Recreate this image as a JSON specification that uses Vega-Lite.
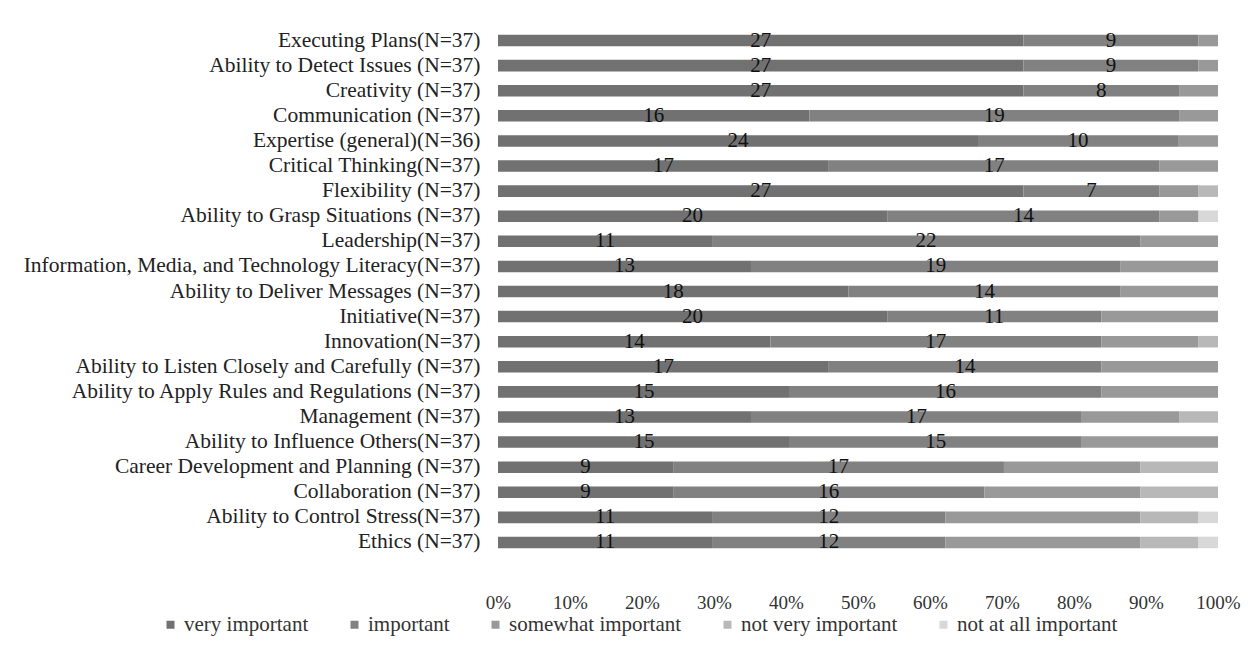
{
  "$schema": "https://vega.github.io/schema/vega-lite/v6.json",
  "autosize": {"type": "none"},
  "width": 720,
  "height": 527,
  "padding": {"left": 498, "top": 28, "right": 40, "bottom": 95},
  "background": "white",
  "config": {
    "view": {"stroke": null},
    "font": "Liberation Serif",
    "axis": {"labelFont": "Liberation Serif", "titleFont": "Liberation Serif"},
    "legend": {"labelFont": "Liberation Serif", "titleFont": "Liberation Serif"},
    "text": {"font": "Liberation Serif"}
  },
  "data": {
    "values": [
      {"item": "Executing Plans(N=37)", "very important": 27, "important": 9, "somewhat important": 1, "not very important": 0, "not at all important": 0},
      {"item": "Ability to Detect Issues (N=37)", "very important": 27, "important": 9, "somewhat important": 1, "not very important": 0, "not at all important": 0},
      {"item": "Creativity (N=37)", "very important": 27, "important": 8, "somewhat important": 2, "not very important": 0, "not at all important": 0},
      {"item": "Communication (N=37)", "very important": 16, "important": 19, "somewhat important": 2, "not very important": 0, "not at all important": 0},
      {"item": "Expertise (general)(N=36)", "very important": 24, "important": 10, "somewhat important": 2, "not very important": 0, "not at all important": 0},
      {"item": "Critical Thinking(N=37)", "very important": 17, "important": 17, "somewhat important": 3, "not very important": 0, "not at all important": 0},
      {"item": "Flexibility (N=37)", "very important": 27, "important": 7, "somewhat important": 2, "not very important": 1, "not at all important": 0},
      {"item": "Ability to Grasp Situations  (N=37)", "very important": 20, "important": 14, "somewhat important": 2, "not very important": 0, "not at all important": 1},
      {"item": "Leadership(N=37)", "very important": 11, "important": 22, "somewhat important": 4, "not very important": 0, "not at all important": 0},
      {"item": "Information, Media, and Technology Literacy(N=37)", "very important": 13, "important": 19, "somewhat important": 5, "not very important": 0, "not at all important": 0},
      {"item": "Ability to Deliver Messages  (N=37)", "very important": 18, "important": 14, "somewhat important": 5, "not very important": 0, "not at all important": 0},
      {"item": "Initiative(N=37)", "very important": 20, "important": 11, "somewhat important": 6, "not very important": 0, "not at all important": 0},
      {"item": "Innovation(N=37)", "very important": 14, "important": 17, "somewhat important": 5, "not very important": 1, "not at all important": 0},
      {"item": "Ability to Listen Closely and Carefully  (N=37)", "very important": 17, "important": 14, "somewhat important": 6, "not very important": 0, "not at all important": 0},
      {"item": "Ability to Apply Rules and Regulations  (N=37)", "very important": 15, "important": 16, "somewhat important": 6, "not very important": 0, "not at all important": 0},
      {"item": "Management (N=37)", "very important": 13, "important": 17, "somewhat important": 5, "not very important": 2, "not at all important": 0},
      {"item": "Ability to Influence Others(N=37)", "very important": 15, "important": 15, "somewhat important": 7, "not very important": 0, "not at all important": 0},
      {"item": "Career Development and Planning (N=37)", "very important": 9, "important": 17, "somewhat important": 7, "not very important": 4, "not at all important": 0},
      {"item": "Collaboration (N=37)", "very important": 9, "important": 16, "somewhat important": 8, "not very important": 4, "not at all important": 0},
      {"item": "Ability to Control Stress(N=37)", "very important": 11, "important": 12, "somewhat important": 10, "not very important": 3, "not at all important": 1},
      {"item": "Ethics (N=37)", "very important": 11, "important": 12, "somewhat important": 10, "not very important": 3, "not at all important": 1}
    ]
  },
  "transform": [
    {"fold": ["very important", "important", "somewhat important", "not very important", "not at all important"], "as": ["level", "count"]},
    {"calculate": "indexof(['very important','important','somewhat important','not very important','not at all important'], datum.level)", "as": "ord"},
    {"stack": "count", "groupby": ["item"], "sort": [{"field": "ord", "order": "ascending"}], "offset": "normalize", "as": ["v0", "v1"]},
    {"calculate": "(datum.v0 + datum.v1) / 2", "as": "mid"}
  ],
  "encoding": {
    "y": {
      "field": "item",
      "type": "nominal",
      "sort": [
        "Executing Plans(N=37)", "Ability to Detect Issues (N=37)", "Creativity (N=37)", "Communication (N=37)", "Expertise (general)(N=36)", "Critical Thinking(N=37)", "Flexibility (N=37)", "Ability to Grasp Situations  (N=37)", "Leadership(N=37)", "Information, Media, and Technology Literacy(N=37)", "Ability to Deliver Messages  (N=37)", "Initiative(N=37)", "Innovation(N=37)", "Ability to Listen Closely and Carefully  (N=37)", "Ability to Apply Rules and Regulations  (N=37)", "Management (N=37)", "Ability to Influence Others(N=37)", "Career Development and Planning (N=37)", "Collaboration (N=37)", "Ability to Control Stress(N=37)", "Ethics (N=37)"
      ],
      "scale": {"paddingInner": 0.54, "paddingOuter": 0.27},
      "axis": {"title": null, "domain": false, "ticks": false, "labelPadding": 18, "labelLimit": 700, "labelFontSize": 21.5, "labelColor": "#222", "labelFont": "Liberation Serif"}
    }
  },
  "layer": [
    {
      "mark": {"type": "bar"},
      "encoding": {
        "x": {
          "field": "v0",
          "type": "quantitative",
          "scale": {"domain": [0, 1], "nice": false},
          "axis": {"title": null, "format": ".0%", "values": [0, 0.1, 0.2, 0.3, 0.4, 0.5, 0.6, 0.7, 0.8, 0.9, 1], "grid": false, "domain": false, "ticks": false, "labelFlush": false, "labelOverlap": false, "labelPadding": 38, "labelFontSize": 19, "labelColor": "#333", "labelFont": "Liberation Serif"}
        },
        "x2": {"field": "v1"},
        "color": {
          "field": "level",
          "type": "nominal",
          "scale": {
            "domain": ["very important", "important", "somewhat important", "not very important", "not at all important"],
            "range": ["#717171", "#818181", "#999999", "#b8b8b8", "#d8d8d8"]
          },
          "legend": {"title": null, "orient": "none", "legendX": -338, "legendY": 586, "direction": "horizontal", "columns": 5, "symbolType": "square", "symbolSize": 64, "symbolStrokeWidth": 0, "labelFontSize": 21, "labelLimit": 400, "labelColor": "#333", "labelFont": "Liberation Serif", "columnPadding": 35, "symbolOffset": 0, "labelOffset": 3}
        }
      }
    },
    {
      "transform": [{"filter": "datum.ord < 2 && datum.count > 0"}],
      "mark": {"type": "text", "fontSize": 21, "color": "#111", "baseline": "middle", "font": "Liberation Serif"},
      "encoding": {
        "x": {"field": "mid", "type": "quantitative"},
        "text": {"field": "count", "type": "quantitative"}
      }
    }
  ]
}
